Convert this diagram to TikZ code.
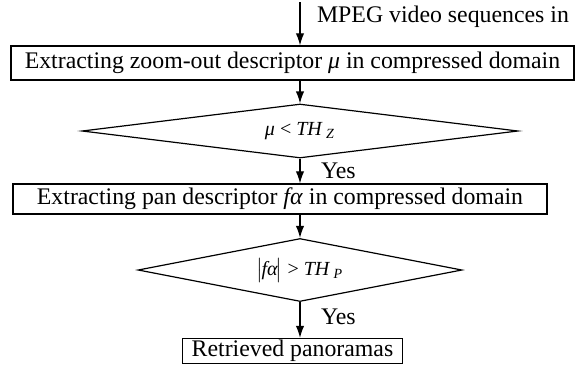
\documentclass[tikz,border=0pt]{standalone}
\usepackage{fontspec}
\setmainfont{Liberation Serif}
\usetikzlibrary{shapes.geometric,arrows.meta}

\begin{document}
\begin{tikzpicture}[x=0.5pt, y=0.5pt, font=\fontsize{11.9}{14}\selectfont]
        % Define node styles
        \tikzstyle{stage}=[rectangle,draw=black,line width=0.65pt,inner sep=0pt]
        \tikzstyle{test}=[diamond,draw=black,line width=0.6pt,inner sep=0pt,font=\fontsize{10}{12}\selectfont]
        \tikzstyle{flow}=[-{Latex[length=6pt,width=4.2pt]},line width=0.6pt]

        \useasboundingbox (0,-365) rectangle (576,0);

        % Input
        \coordinate (src) at (300,-2);
        \node [anchor=west] (srclabel) at (310,-16.5) {MPEG video sequences in};

        % Processing boxes
        \node [stage, minimum width=281.5pt, minimum height=17pt] (zoom) at (292.5,-63)
            {Extracting zoom-out descriptor \textit{μ} in compressed domain};
        \node [stage, minimum width=267pt, minimum height=15pt] (pan) at (280,-199)
            {Extracting pan descriptor \textit{fα} in compressed domain};
        \node [stage, minimum width=110pt, minimum height=12.5pt] (result) at (292.5,-351)
            {Retrieved panoramas};

        % Decisions
        \node [test, aspect=8, minimum width=218pt, minimum height=27pt] (zoomtest) at (300,-131)
            {\textit{μ} < \textit{TH}\,\textsubscript{\textit{Z}}};
        \node [test, aspect=5, minimum width=162pt, minimum height=31.5pt] (pantest) at (300,-270)
            {$\bigl|$\kern-1pt\textit{fα}\kern-1pt$\bigr|$ > \textit{TH}\,\textsubscript{\textit{P}}};

        % Connectors
        \draw [flow] (src) -- (src |- zoom.north);
        \draw [flow] (zoomtest.north |- zoom.south) -- (zoomtest.north);
        \draw [flow] (zoomtest.south) -- (zoomtest.south |- pan.north);
        \draw [flow] (pantest.north |- pan.south) -- (pantest.north);
        \draw [flow] (pantest.south) -- (pantest.south |- result.north);

        % Annotate branches
        \node [anchor=west] (yes1) at (314,-171) {Yes};
        \node [anchor=west] (yes2) at (314,-317) {Yes};
    \end{tikzpicture}
\end{document}
